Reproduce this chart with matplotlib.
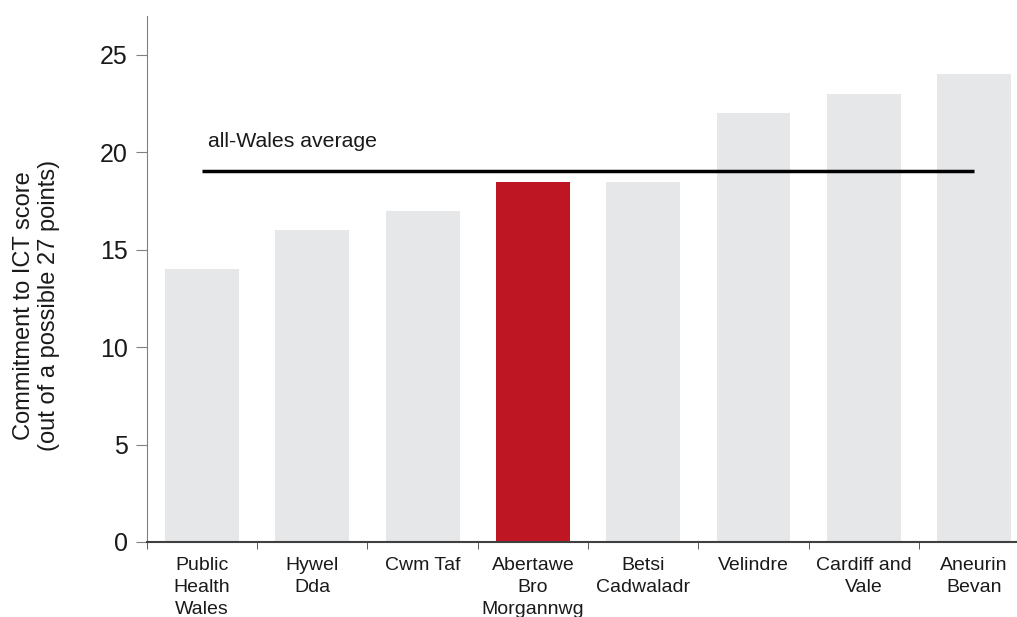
import matplotlib
matplotlib.use("Agg")
import matplotlib.pyplot as plt
import numpy as np

# 数据
boards = ["Public\nHealth\nWales", "Hywel\nDda", "Cwm Taf", "Abertawe\nBro\nMorgannwg",
          "Betsi\nCadwaladr", "Velindre", "Cardiff and\nVale", "Aneurin\nBevan"]
scores = [14, 16, 17, 18.5, 18.5, 22, 23, 24]
highlight = "Abertawe\nBro\nMorgannwg"
wales_average = 19.05
y_ticks = [0, 5, 10, 15, 20, 25]

plt.rcParams["font.family"] = ["Liberation Sans", "DejaVu Sans"]

fig = plt.figure(figsize=(10.17, 6.17), dpi=100)
ax = fig.add_axes([0.1445, 0.1216, 0.8555, 0.8524])

x = np.arange(len(boards))
colors = ["#BE1622" if b == highlight else "#E6E7E8" for b in boards]
ax.bar(x, scores, width=0.67, color=colors, zorder=2)

# 平均线
ax.hlines(wales_average, x[0], x[-1], color="black", linewidth=2.5, zorder=3)
ax.text(x[0] + 0.05, wales_average + 1.0, "all-Wales average", fontsize=15.3,
        ha="left", va="bottom", color="#1a1a1a")

ax.set_yticks(y_ticks)
ax.tick_params(axis="y", labelsize=18, length=8, color="#808080", pad=6, labelcolor="#1a1a1a")

ax.set_xticks(x)
ax.set_xticklabels(boards, fontsize=14, color="#1a1a1a", va="top", linespacing=1.37)
ax.tick_params(axis="x", which="major", length=0, pad=11)
ax.set_xticks(np.arange(len(boards) + 1) - 0.5, minor=True)
ax.tick_params(axis="x", which="minor", length=5, color="#404040")

# 刻度设置之后再固定范围
ax.set_xlim(-0.5, 7.39)
ax.set_ylim(0, 27)

ax.set_ylabel("Commitment to ICT score\n(out of a possible 27 points)", fontsize=17,
              color="#1a1a1a", linespacing=1.15)
ax.yaxis.set_label_coords(-0.1, 0.45)

for side in ["top", "right"]:
    ax.spines[side].set_visible(False)
ax.spines["left"].set_color("#808080")
ax.spines["bottom"].set_color("#404040")
ax.spines["bottom"].set_linewidth(1.5)

fig.savefig("out.png", dpi=100)
